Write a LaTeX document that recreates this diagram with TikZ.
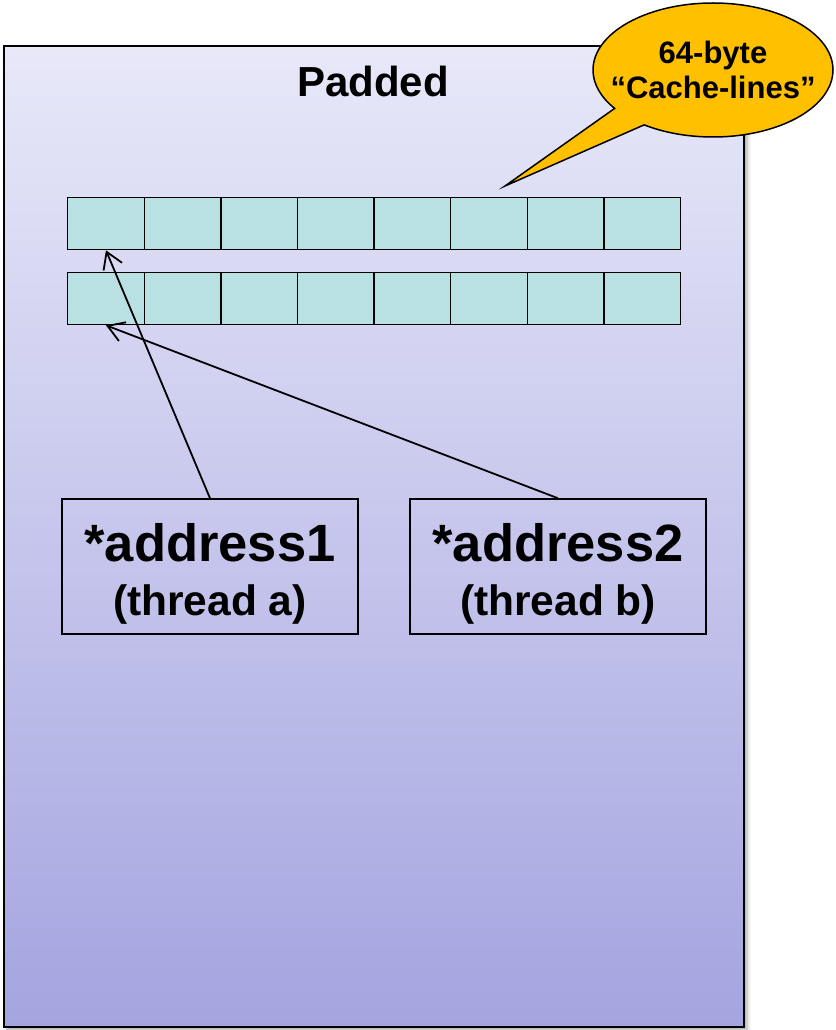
\documentclass[tikz,border=0pt]{standalone}
\usepackage{fontspec}
\setmainfont{Liberation Sans}
\usetikzlibrary{arrows.meta,shapes.callouts,shadows.blur}

\definecolor{padtop}{RGB}{232,232,249}
\definecolor{padbottom}{RGB}{164,164,224}
\definecolor{linefill}{RGB}{185,224,226}
\definecolor{bubblefill}{RGB}{255,192,0}

\begin{document}
\begin{tikzpicture}[x=1pt,y=-1pt,
    cacheline/.style={draw, line width=1.3pt, fill=linefill, minimum width=76.6pt,
      minimum height=52pt, inner sep=0pt, anchor=north west},
    addrbox/.style={draw, line width=1.5pt, minimum width=296pt, minimum height=135pt,
      inner sep=0pt, align=center, text height=106pt, text depth=9pt,
      font=\bfseries\fontsize{42.5}{54}\selectfont},
    ptr/.style={line width=1.8pt, -{Straight Barb[length=16pt,width=20pt]}}]

  \useasboundingbox (0,0) rectangle (835,1030);

  % padded region
  \draw[line width=2.5pt, top color=padtop, bottom color=padbottom,
    blur shadow={shadow xshift=3pt, shadow yshift=-3pt, shadow blur radius=4pt, shadow opacity=35}]
    (4,46) rectangle (744,1027);
  \node[font=\bfseries\fontsize{42}{48}\selectfont, anchor=base] (title) at (373,97) {Padded};

  % two rows of eight cache lines
  \foreach \r/\y in {1/197, 2/272}
    \foreach \c in {1,...,8}
      \node[cacheline] (line\r\c) at ({67+(\c-1)*76.6}, \y) {};

  % the two threads
  \node[addrbox] (addr1) at (210,566.5) {{\fontsize{52.5}{54}\selectfont *address1}\\(thread a)};
  \node[addrbox] (addr2) at (558,566.5) {{\fontsize{52.5}{54}\selectfont *address2}\\(thread b)};

  \draw[ptr] (addr1.north) -- (line11.south);
  \draw[ptr] (addr2.north) -- (line21.south);

  % callout
  \coordinate (tip) at (505,186);
  \node[ellipse callout, draw, line width=1.5pt, fill=bubblefill, minimum width=240pt,
    minimum height=134pt, inner sep=0pt, callout absolute pointer=(tip),
    callout pointer arc=20] (bubble) at (713,70) {};
  \node[font=\bfseries\fontsize{31}{35}\selectfont, align=center] (bubbletext) at (bubble.center)
    {64-byte\\“Cache-lines”};
\end{tikzpicture}
\end{document}
